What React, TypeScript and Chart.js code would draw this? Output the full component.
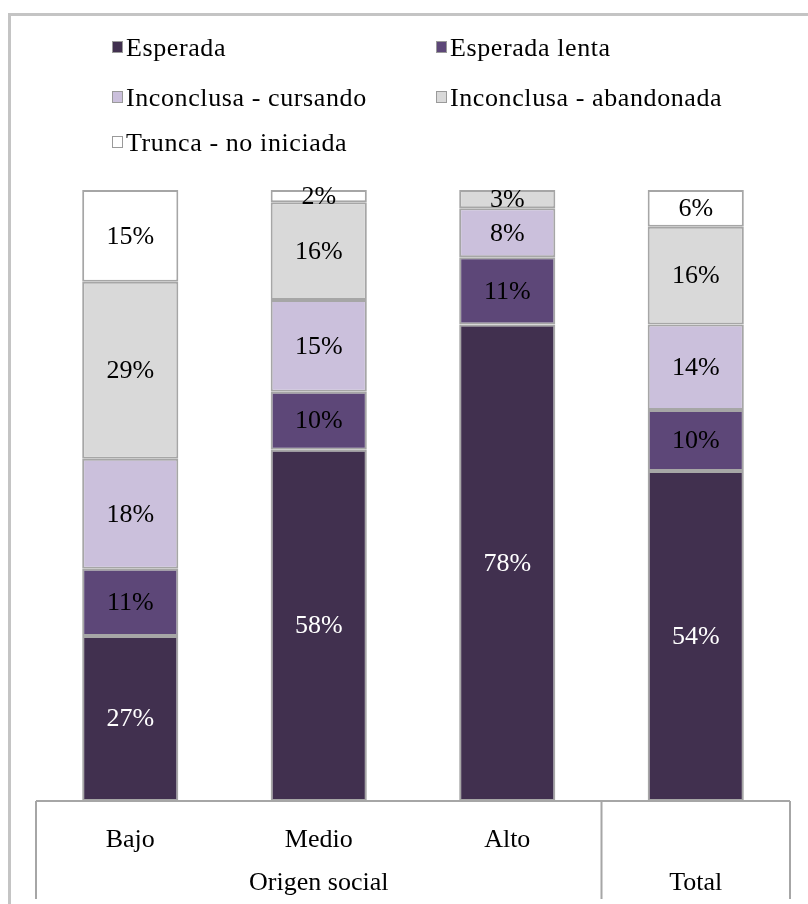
import React, { useEffect, useRef } from "react";
import { Chart, registerables } from "chart.js";

Chart.register(...registerables);

const categories = ["Bajo", "Medio", "Alto", "Total"];
const tickLabels = ["Bajo", "Medio", "Alto", ""];
const groupLabels = ["Origen social", "Total"];
const groupSpans = [3, 1];

const seriesNames = [
  "Esperada",
  "Esperada lenta",
  "Inconclusa - cursando",
  "Inconclusa - abandonada",
  "Trunca - no iniciada",
];
const esperada = [27, 57.5, 78, 54];
const esperadaLenta = [11, 9.5, 11, 10];
const cursando = [18, 15, 8, 14];
const abandonada = [29, 16, 3, 16];
const trunca = [15, 2, 0, 6];

const seriesValues = [esperada, esperadaLenta, cursando, abandonada, trunca];
const seriesColors = ["#41304f", "#5d4778", "#cbc0dc", "#d9d9d9", "#ffffff"];
const labelColors = ["#ffffff", "#000000", "#000000", "#000000", "#000000"];

const FONT = "'Liberation Serif', 'DejaVu Serif', serif";
const GRID = "#a6a6a6";

const labelPlugin = {
  id: "segLabels",
  afterDatasetsDraw(chart: any) {
    const ctx = chart.ctx;
    ctx.save();
    ctx.font = `26px ${FONT}`;
    ctx.textAlign = "center";
    ctx.textBaseline = "middle";
    chart.data.datasets.forEach((ds: any, di: number) => {
      const meta = chart.getDatasetMeta(di);
      meta.data.forEach((el: any, i: number) => {
        const v = ds.data[i];
        if (!v) return;
        ctx.fillStyle = labelColors[di];
        ctx.fillText(Math.round(v) + "%", el.x, (el.y + el.base) / 2 + 1);
      });
    });
    ctx.restore();
  },
};

const tablePlugin = {
  id: "catTable",
  afterDraw(chart: any) {
    const ctx = chart.ctx;
    const xs = chart.scales.x;
    const area = chart.chartArea;
    const bottom = area.bottom;
    const end = chart.height - 5;
    ctx.save();
    ctx.strokeStyle = GRID;
    ctx.lineWidth = 2;
    ctx.beginPath();
    ctx.moveTo(area.left, bottom);
    ctx.lineTo(area.right, bottom);
    ctx.stroke();
    const bounds: number[] = [area.left];
    let idx = 0;
    groupSpans.forEach((span) => {
      idx += span;
      if (idx < categories.length) {
        bounds.push((xs.getPixelForValue(idx - 1) + xs.getPixelForValue(idx)) / 2);
      } else {
        bounds.push(area.right);
      }
    });
    ctx.beginPath();
    bounds.forEach((b) => {
      ctx.moveTo(b, bottom);
      ctx.lineTo(b, end);
    });
    ctx.stroke();
    ctx.fillStyle = "#000000";
    ctx.font = `26px ${FONT}`;
    ctx.textAlign = "center";
    ctx.textBaseline = "middle";
    groupLabels.forEach((g, gi) => {
      ctx.fillText(g, (bounds[gi] + bounds[gi + 1]) / 2, 883);
    });
    ctx.restore();
  },
};

function Legend() {
  const pos = [
    { x: 112, y: 48 },
    { x: 436, y: 48 },
    { x: 112, y: 98 },
    { x: 436, y: 98 },
    { x: 112, y: 143 },
  ];
  return (
    <>
      {seriesNames.map((n, i) => (
        <div
          key={n}
          style={{
            position: "absolute",
            left: pos[i].x,
            top: pos[i].y - 16,
            height: 32,
            display: "flex",
            alignItems: "center",
            fontFamily: FONT,
            fontSize: 26,
            letterSpacing: 0.6,
            color: "#000",
            whiteSpace: "nowrap",
          }}
        >
          <span
            style={{
              display: "inline-block",
              width: 9,
              height: 10,
              background: seriesColors[i],
              border: "1px solid #9a9a9a",
              marginRight: 3,
              marginTop: -3,
            }}
          />
          {n}
        </div>
      ))}
    </>
  );
}

export default function App() {
  const ref = useRef<HTMLCanvasElement>(null);
  useEffect(() => {
    if (!ref.current) return;
    const chart = new Chart(ref.current, {
      type: "bar",
      data: {
        labels: categories,
        datasets: seriesNames.map((n, i) => ({
          label: n,
          data: seriesValues[i],
          backgroundColor: seriesColors[i],
          borderColor: GRID,
          borderWidth: 2,
          borderSkipped: false,
          categoryPercentage: 1,
          barPercentage: 0.51,
        })),
      },
      options: {
        animation: false,
        responsive: false,
        maintainAspectRatio: false,
        layout: { padding: { left: 36, right: 18, top: 190, bottom: 0 } },
        plugins: { legend: { display: false }, tooltip: { enabled: false } },
        scales: {
          x: {
            stacked: true,
            grid: { display: false, drawTicks: false },
            border: { display: false },
            ticks: {
              color: "#000",
              font: { family: FONT, size: 26 },
              padding: 24,
              maxRotation: 0,
              callback: (_v: any, i: number) => tickLabels[i],
            },
            afterFit: (s: any) => {
              s.height = 103;
            },
          },
          y: { stacked: true, display: false, min: 0, max: 100 },
        },
      },
      plugins: [labelPlugin, tablePlugin],
    });
    return () => chart.destroy();
  }, []);
  return (
    <div
      style={{
        position: "fixed",
        left: 0,
        top: 0,
        width: 808,
        height: 904,
        overflow: "hidden",
        background: "#fff",
      }}
    >
      <div
        style={{
          position: "absolute",
          left: 8,
          top: 13,
          width: 900,
          height: 1000,
          borderLeft: "3px solid #c4c4c4",
          borderTop: "3px solid #c4c4c4",
        }}
      />
      <canvas ref={ref} width={808} height={904} style={{ position: "absolute", left: 0, top: 0 }} />
      <Legend />
    </div>
  );
}
